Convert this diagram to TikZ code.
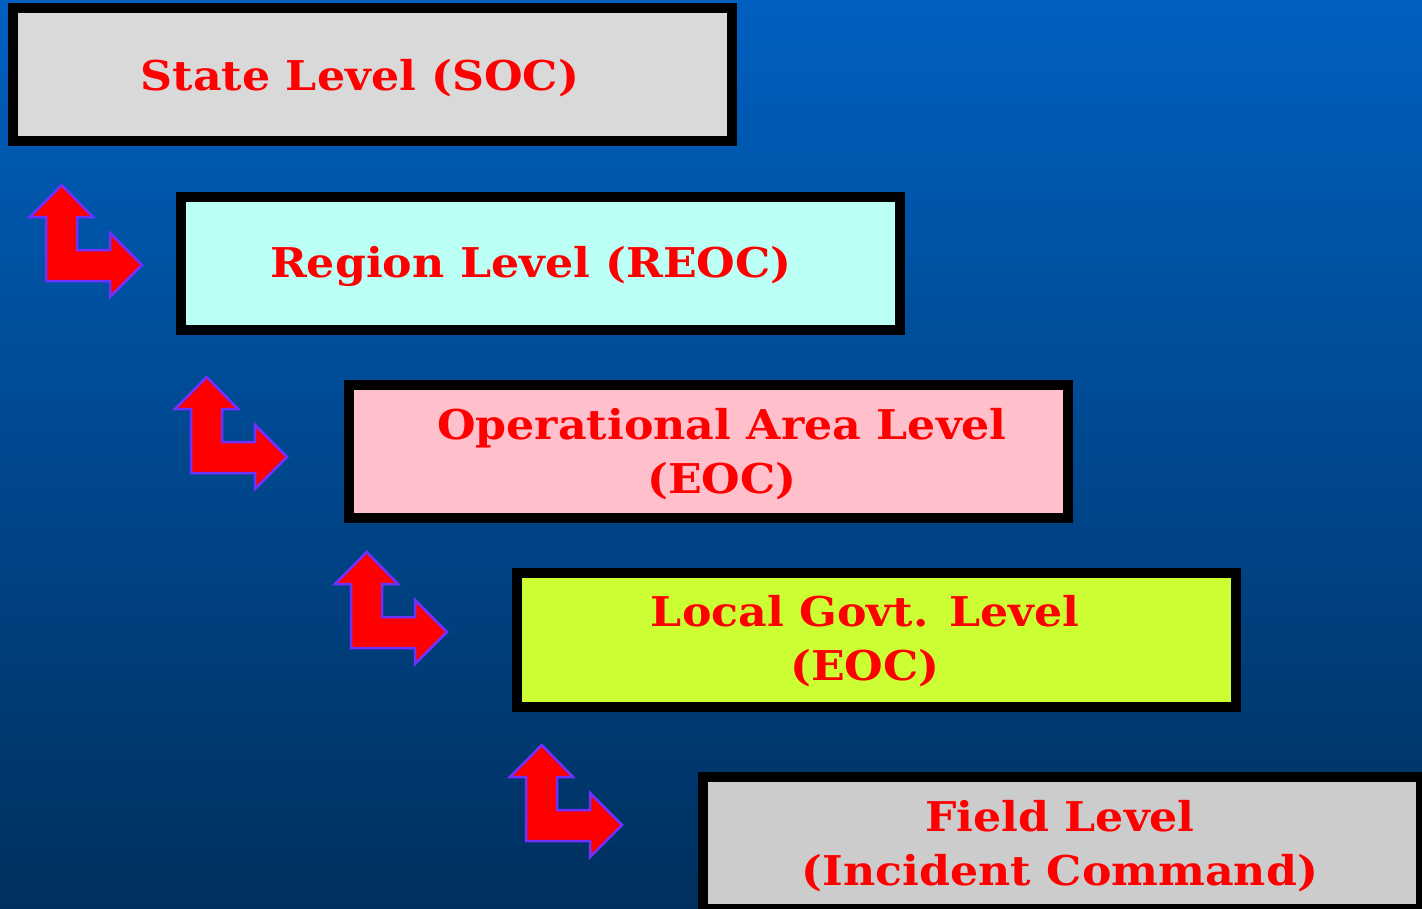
\documentclass[tikz,border=0pt]{standalone}
\usepackage{fontspec}
\setmainfont[FakeStretch=1.08]{DejaVu Serif}
\begin{document}
\begin{tikzpicture}[x=1pt,y=-1pt,
  box/.style={draw=black,line width=10pt,inner sep=0pt,minimum width=719pt,minimum height=133pt},
  lbl/.style={text=red,font=\bfseries\fontsize{41}{54}\selectfont,align=center,inner sep=0pt},
  larrow/.pic={\draw[draw=arrowpurple,line width=2.5pt,fill=red,line join=miter]
    (31.7,0) -- (63,32) -- (47,32) -- (47,65) -- (80,65) -- (80,48) -- (112,80)
    -- (80,112) -- (80,96) -- (16,96) -- (16,32) -- (0,32) -- cycle;}]
\definecolor{bgtop}{HTML}{0060C0}
\definecolor{bgbot}{HTML}{00305E}
\definecolor{arrowpurple}{HTML}{7030FF}
\definecolor{c1}{HTML}{D9D9D9}
\definecolor{c2}{HTML}{BBFFF5}
\definecolor{c3}{HTML}{FFC0CB}
\definecolor{c4}{HTML}{CCFF33}
\definecolor{c5}{HTML}{CCCCCC}
\useasboundingbox (0,0) rectangle (1422,908);
\shade[top color=bgtop,bottom color=bgbot] (0,0) rectangle (1422,908);
\node[box,fill=c1] (b1) at (372.5,74.5) {};
\node[box,fill=c2] (b2) at (540.5,263) {};
\node[box,fill=c3] (b3) at (708.5,451) {};
\node[box,fill=c4,minimum height=134pt] (b4) at (876.5,640) {};
\node[box,fill=c5,minimum width=718pt,minimum height=132pt] (b5) at (1062,843) {};
\node[lbl] (t1) at (360,78) {State Level (SOC)};
\node[lbl] (t2) at (531,266) {Region Level (REOC)};
\node[lbl] (t3) at (722,454) {Operational Area Level\\(EOC)};
\node[lbl] (t4) at (865,641) {Local Govt. Level\\(EOC)};
\node[lbl] (t5) at (1060,846) {Field Level\\(Incident Command)};
\pic at (30,185) {larrow};
\pic at (175,377) {larrow};
\pic at (335,552) {larrow};
\pic at (510,745) {larrow};
\end{tikzpicture}
\end{document}
